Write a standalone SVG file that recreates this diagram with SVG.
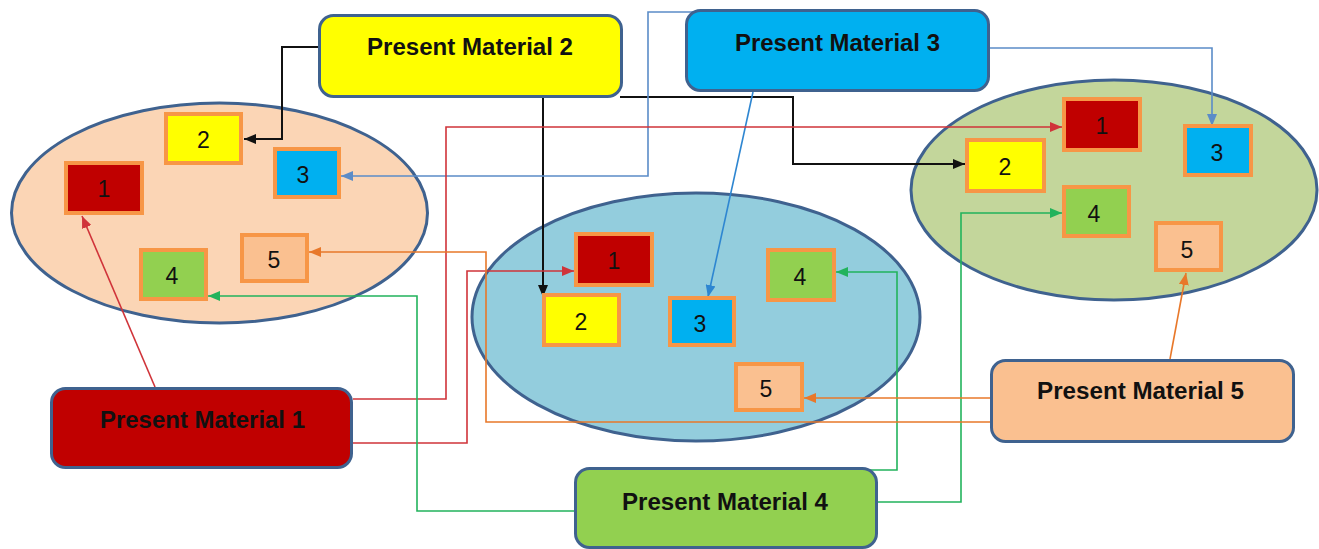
<svg xmlns="http://www.w3.org/2000/svg" width="1319" height="549" viewBox="0 0 1319 549">
<style>
.ell{stroke:#3F628F;stroke-width:3}
.pm{stroke:#3F628F;stroke-width:3}
.sb{stroke:#F79646;stroke-width:4}
.pt{font-family:"Liberation Sans",Arial,sans-serif;font-weight:bold;font-size:23px;fill:#111;text-anchor:middle}
.nt{font-family:"Liberation Sans",Arial,sans-serif;font-size:23px;fill:#111;text-anchor:middle}
.c{fill:none}
.k{stroke:#111;stroke-width:2}
.b{stroke:#5B8CC8;stroke-width:1.6}
.b2{stroke:#2E86D1;stroke-width:1.6}
.r{stroke:#D0343A;stroke-width:1.6}
.g{stroke:#22B35C;stroke-width:1.6}
.o{stroke:#E8782A;stroke-width:1.6}
</style>
<defs>
<marker id="ak" markerUnits="userSpaceOnUse" markerWidth="12" markerHeight="10" refX="12" refY="5" orient="auto"><path d="M0,0 L12,5 L0,10 z" fill="#111"/></marker>
<marker id="ab" markerUnits="userSpaceOnUse" markerWidth="12" markerHeight="10" refX="12" refY="5" orient="auto"><path d="M0,0 L12,5 L0,10 z" fill="#5B8CC8"/></marker>
<marker id="ab2" markerUnits="userSpaceOnUse" markerWidth="12" markerHeight="10" refX="12" refY="5" orient="auto"><path d="M0,0 L12,5 L0,10 z" fill="#2E86D1"/></marker>
<marker id="ar" markerUnits="userSpaceOnUse" markerWidth="12" markerHeight="10" refX="12" refY="5" orient="auto"><path d="M0,0 L12,5 L0,10 z" fill="#D0343A"/></marker>
<marker id="ag" markerUnits="userSpaceOnUse" markerWidth="12" markerHeight="10" refX="12" refY="5" orient="auto"><path d="M0,0 L12,5 L0,10 z" fill="#22B35C"/></marker>
<marker id="ao" markerUnits="userSpaceOnUse" markerWidth="12" markerHeight="10" refX="12" refY="5" orient="auto"><path d="M0,0 L12,5 L0,10 z" fill="#E8782A"/></marker>
</defs>
<rect width="1319" height="549" fill="#fff"/>
<g id="groupA"><ellipse class="ell" cx="219.5" cy="213" rx="208" ry="110" fill="#FBD5B5"/></g>
<g id="groupB"><ellipse class="ell" cx="696" cy="317" rx="224" ry="124" fill="#93CDDD"/></g>
<g id="groupC"><ellipse class="ell" cx="1114" cy="190" rx="203" ry="110" fill="#C3D69B"/></g>
<g id="connectors" class="c">
<path class="k" d="M318,47 H282 V139 H244" marker-end="url(#ak)"/>
<path class="k" d="M543,98 V297" marker-end="url(#ak)"/>
<path class="k" d="M620,97 H793 V164 H965" marker-end="url(#ak)"/>
<path class="b" d="M700,12 H648 V176 H341" marker-end="url(#ab)"/>
<path class="b2" d="M753,92 L708,297" marker-end="url(#ab2)"/>
<path class="b" d="M990,48 H1212 V126" marker-end="url(#ab)"/>
<path class="r" d="M155,387 L82,216" marker-end="url(#ar)"/>
<path class="r" d="M353,399 H446 V127 H1062" marker-end="url(#ar)"/>
<path class="r" d="M353,443 H467 V271 H574" marker-end="url(#ar)"/>
<path class="g" d="M574,511 H417 V296 H208" marker-end="url(#ag)"/>
<path class="g" d="M870,470 H897 V272 H836" marker-end="url(#ag)"/>
<path class="g" d="M878,502 H961 V213 H1062" marker-end="url(#ag)"/>
<path class="o" d="M990,398 H804" marker-end="url(#ao)"/>
<path class="o" d="M990,422 H486 V252 H309" marker-end="url(#ao)"/>
<path class="o" d="M1170,359 L1186,273" marker-end="url(#ao)"/>
</g>
<g id="a1"><rect class="sb" x="66" y="163" width="76" height="50" fill="#C00000"/><text class="nt" x="104" y="197">1</text></g>
<g id="a2"><rect class="sb" x="166" y="114" width="75" height="49" fill="#FFFF00"/><text class="nt" x="203.5" y="148">2</text></g>
<g id="a3"><rect class="sb" x="275" y="149" width="64" height="48" fill="#00B0F0"/><text class="nt" x="303" y="183">3</text></g>
<g id="a4"><rect class="sb" x="141" y="250" width="65" height="49" fill="#92D050"/><text class="nt" x="172" y="284">4</text></g>
<g id="a5"><rect class="sb" x="242" y="235" width="65" height="46" fill="#FAC090"/><text class="nt" x="274" y="268">5</text></g>
<g id="b1"><rect class="sb" x="576" y="234" width="76" height="51" fill="#C00000"/><text class="nt" x="614" y="269">1</text></g>
<g id="b2"><rect class="sb" x="544" y="295" width="75" height="50" fill="#FFFF00"/><text class="nt" x="581" y="330">2</text></g>
<g id="b3"><rect class="sb" x="670" y="298" width="64" height="47" fill="#00B0F0"/><text class="nt" x="700" y="332">3</text></g>
<g id="b4"><rect class="sb" x="768" y="250" width="66" height="50" fill="#92D050"/><text class="nt" x="800" y="285">4</text></g>
<g id="b5"><rect class="sb" x="736" y="364" width="66" height="46" fill="#FAC090"/><text class="nt" x="766" y="397">5</text></g>
<g id="c1"><rect class="sb" x="1064" y="99" width="76" height="51" fill="#C00000"/><text class="nt" x="1102" y="134">1</text></g>
<g id="c2"><rect class="sb" x="967" y="140" width="77" height="51" fill="#FFFF00"/><text class="nt" x="1005" y="175">2</text></g>
<g id="c3"><rect class="sb" x="1185" y="126" width="66" height="49" fill="#00B0F0"/><text class="nt" x="1217" y="161">3</text></g>
<g id="c4"><rect class="sb" x="1064" y="187" width="65" height="49" fill="#92D050"/><text class="nt" x="1094" y="222">4</text></g>
<g id="c5"><rect class="sb" x="1156" y="223" width="65" height="47" fill="#FAC090"/><text class="nt" x="1187" y="258">5</text></g>
<g id="pm2"><rect class="pm" x="319.5" y="15.5" width="302" height="81" rx="14" fill="#FFFF00"/><text class="pt" x="470" y="55" textLength="206" lengthAdjust="spacingAndGlyphs">Present Material 2</text></g>
<g id="pm3"><rect class="pm" x="686.5" y="10.5" width="302" height="80" rx="14" fill="#00B0F0"/><text class="pt" x="837.5" y="51" textLength="205" lengthAdjust="spacingAndGlyphs">Present Material 3</text></g>
<g id="pm1"><rect class="pm" x="51.5" y="388.5" width="300" height="79" rx="14" fill="#C00000"/><text class="pt" x="202.5" y="428" textLength="205" lengthAdjust="spacingAndGlyphs">Present Material 1</text></g>
<g id="pm5"><rect class="pm" x="991.5" y="360.5" width="302" height="81" rx="14" fill="#FAC090"/><text class="pt" x="1140.5" y="399" textLength="207" lengthAdjust="spacingAndGlyphs">Present Material 5</text></g>
<g id="pm4"><rect class="pm" x="575.5" y="468.5" width="301" height="79" rx="14" fill="#92D050"/><text class="pt" x="725" y="510" textLength="206" lengthAdjust="spacingAndGlyphs">Present Material 4</text></g>
</svg>
